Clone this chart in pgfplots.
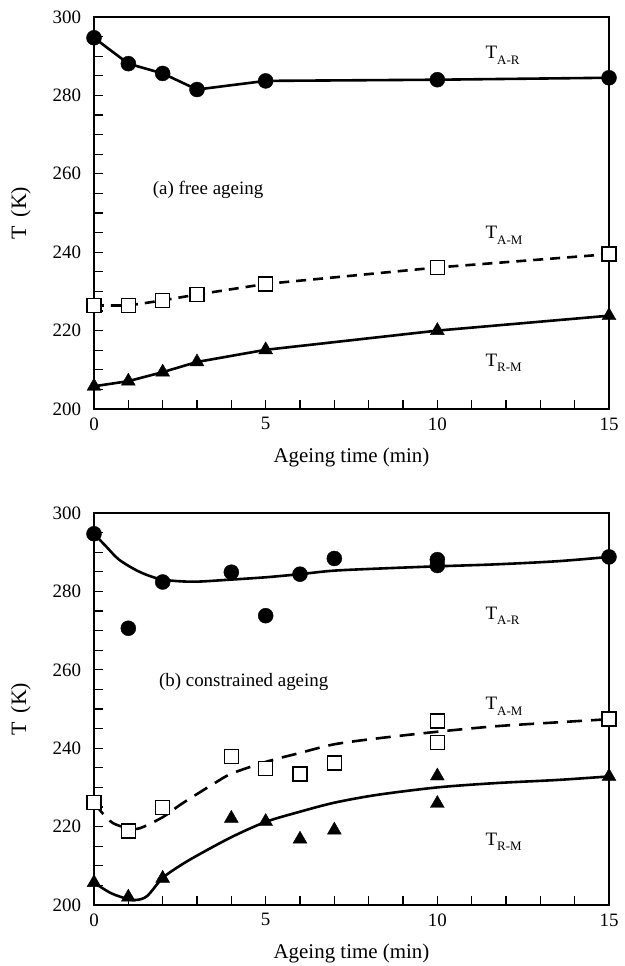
\documentclass[border=0pt]{standalone}
\usepackage{fontspec}
\setmainfont{Liberation Serif}
\usepackage{pgfplots}
\pgfplotsset{compat=1.18}

\newcommand{\Tsub}[1]{T\raisebox{-0.3em}{\fontsize{13}{13}\selectfont #1}}

\pgfplotsset{
  panel/.style={
    scale only axis, width=515bp, height=392bp,
    xmin=0, xmax=15, ymin=200, ymax=300,
    xtick={0,5,10,15}, minor xtick={1,...,14},
    ytick={200,220,...,300}, minor ytick={205,210,...,295},
    tick align=inside, xtick pos=left, ytick pos=left,
    major tick length=9bp, minor tick length=9bp,
    tick style={black, line width=1.2bp},
    axis line style={line width=1.5bp},
    ticklabel style={font=\fontsize{19}{22}\selectfont},
    xticklabel style={yshift=-5bp},
    yticklabel style={xshift=-9.5bp},
    /pgf/number format/assume math mode=true,
    xlabel style={font=\fontsize{21}{24}\selectfont, yshift=-11bp},
    ylabel style={font=\fontsize{22}{24}\selectfont, yshift=15bp},
    xlabel={Ageing time (min)}, ylabel={T\hspace{0.4em}(K)},
    clip=false,
  },
  circ/.style={only marks, mark=*, mark size=7.5bp, black},
  sqr/.style={only marks, mark=square*, mark size=7bp, mark options={fill=white, draw=black, line width=1.4bp}},
  tri/.style={only marks, mark=triangle*, mark size=8bp, black},
}
\tikzset{txt/.style={font=\fontsize{19}{22}\selectfont, anchor=base west, inner sep=0pt}}

\begin{document}
\begin{tikzpicture}
% (a) free ageing
\begin{axis}[panel]
\addplot[black, line width=2.6bp] coordinates {(0,294.7) (1,288.1) (2,285.6) (3,281.5) (5,283.7) (10,284.0) (15,284.5)};
\addplot[circ] coordinates {(0,294.7) (1,288.1) (2,285.6) (3,281.5) (5,283.7) (10,284.0) (15,284.5)};
\addplot[black, line width=2.6bp, dash pattern=on 10bp off 7bp] coordinates {(0,226.4) (1,226.4) (2,227.7) (3,229.2) (5,231.9) (10,236.1) (15,239.5)};
\addplot[sqr] coordinates {(0,226.4) (1,226.4) (2,227.7) (3,229.2) (5,231.9) (10,236.1) (15,239.5)};
\addplot[black, line width=2.6bp] coordinates {(0,205.8) (1,207.1) (2,209.4) (3,212.0) (5,215.1) (10,220.0) (15,223.8)};
\addplot[tri] coordinates {(0,205.8) (1,207.1) (2,209.4) (3,212.0) (5,215.1) (10,220.0) (15,223.8)};
\node[txt] at (axis cs:11.4,289.4) {\Tsub{A-R}};
\node[txt] at (axis cs:11.4,243.5) {\Tsub{A-M}};
\node[txt] at (axis cs:11.4,210.9) {\Tsub{R-M}};
\node[txt] at (axis cs:1.71,254.6) {(a) free ageing};
\end{axis}

% (b) constrained ageing
\begin{axis}[panel, at={(0,-496bp)}]
\addplot[black, line width=2.6bp, smooth] coordinates {(0,294.7) (0.35,291.5) (0.73,288.1) (1.3,285.1) (1.89,283.2) (2.47,282.6) (3.04,282.5) (3.97,283.0) (5,283.6) (6,284.4) (7,285.3) (8.5,285.9) (10,286.4) (11.7,286.9) (13.5,287.7) (15,288.8)};
\addplot[black, line width=2.6bp, smooth, dash pattern=on 15bp off 9bp] coordinates {(0,226.2) (0.22,223.7) (0.55,220.9) (1,219.6) (1.34,219.6) (2,222.4) (2.5,225.5) (3,228.3) (3.5,231) (4,233.5) (5,236.5) (6,238.8) (7,241.0) (8.25,242.5) (10,244.2) (11.7,245.6) (13.5,246.6) (15,247.4)};
\addplot[black, line width=2.6bp, smooth] coordinates {(0,205.7) (0.5,203.0) (1,201.5) (1.25,201.3) (1.55,202.3) (2,206.9) (2.5,210.0) (3,212.6) (4,217.3) (5,221.2) (6,223.8) (7,226.1) (8.25,228.1) (10,230.0) (11.7,231.1) (13.5,231.9) (15,232.8)};
\addplot[circ] coordinates {(0,294.7) (1,270.6) (2,282.4) (4,284.9) (5,273.8) (6,284.4) (7,288.4) (10,288.1) (10,286.6) (15,288.8)};
\addplot[sqr] coordinates {(0,226.2) (1,218.9) (2,224.9) (4,237.9) (5,234.8) (6,233.4) (7,236.2) (10,246.9) (10,241.4) (15,247.4)};
\addplot[tri] coordinates {(0,205.7) (1,202.0) (2,206.8) (4,222.1) (5,221.3) (6,216.8) (7,219.1) (10,232.9) (10,225.9) (15,232.8)};
\node[txt] at (axis cs:11.4,272.9) {\Tsub{A-R}};
\node[txt] at (axis cs:11.4,249.8) {\Tsub{A-M}};
\node[txt] at (axis cs:11.4,215.3) {\Tsub{R-M}};
\node[txt] at (axis cs:1.89,255.7) {(b) constrained ageing};
\end{axis}
\pgfresetboundingbox
\useasboundingbox (-94bp,-557bp) rectangle (531bp,409bp);
\end{tikzpicture}
\end{document}
